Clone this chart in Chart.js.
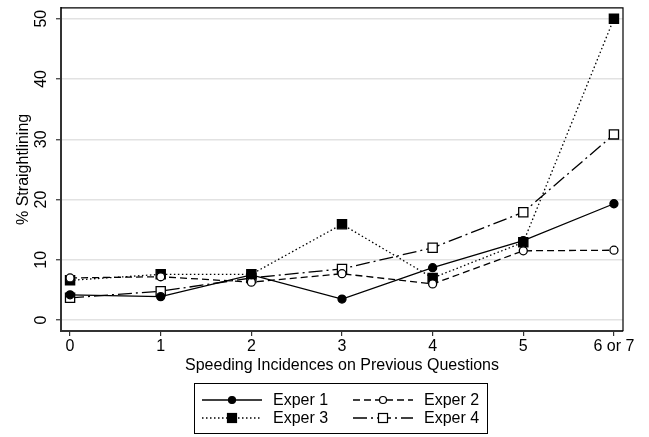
<!DOCTYPE html>
<html>
<head>
<meta charset="utf-8">
<script src="https://cdn.jsdelivr.net/npm/chart.js@4.4.1/dist/chart.umd.min.js"></script>
<style>
html, body { margin: 0; padding: 0; background: #fff; }
#wrap { position: relative; width: 649px; height: 437px; }
#legend {
    position: absolute; left: 194px; top: 383px; width: 294px; height: 51px;
    border: 1px solid #000; box-sizing: border-box;
    font: 16px "Liberation Sans", Arial, sans-serif; color: #000;
}
.item { position: absolute; height: 18px; line-height: 18px; white-space: nowrap; }
.item svg { position: absolute; left: 0; top: 3px; }
.item span { position: absolute; left: 71px; top: 0; }
</style>
</head>
<body>
<div id="wrap">
    <canvas id="chart" width="649" height="437"></canvas>
    <div id="legend"></div>
</div>
<script>
// data
const categories = ['0', '1', '2', '3', '4', '5', '6 or 7'];
const exper1 = [4.2, 3.9, 7.5, 3.5, 8.7, 13.2, 19.3];
const exper2 = [7.0, 7.2, 6.3, 7.7, 6.0, 11.5, 11.6];
const exper3 = [6.6, 7.6, 7.6, 15.9, 7.0, 12.9, 50.0];
const exper4 = [3.7, 4.8, 7.0, 8.5, 12.0, 17.9, 30.8];
const yTicks = [0, 10, 20, 30, 40, 50];

const FONT = '"Liberation Sans", Arial, sans-serif';

const series = [
    { label: 'Exper 1', data: exper1, dash: [], style: 'circle', fill: '#000', r: 4 },
    { label: 'Exper 2', data: exper2, dash: [7, 4], style: 'circle', fill: '#fff', r: 4 },
    { label: 'Exper 3', data: exper3, dash: [1.5, 2.5], style: 'rect', fill: '#000', r: 6.5 },
    { label: 'Exper 4', data: exper4, dash: [14, 4, 2, 4], style: 'rect', fill: '#fff', r: 6.5 }
];

const stataFrame = {
    id: 'stataFrame',
    beforeDatasetsDraw(chart) {
        const { ctx, chartArea: a } = chart;
        ctx.save();
        ctx.strokeStyle = '#000';
        ctx.lineWidth = 1.2;
        ctx.beginPath();
        ctx.moveTo(a.left, a.top);
        ctx.lineTo(a.right, a.top);
        ctx.lineTo(a.right, a.bottom);
        ctx.stroke();
        ctx.restore();
    },
    afterDraw(chart) {
        const { ctx, chartArea: a } = chart;
        const ys = chart.scales.y;
        ctx.save();
        ctx.fillStyle = '#000';
        ctx.font = '16px ' + FONT;
        ctx.textAlign = 'center';
        ctx.textBaseline = 'middle';
        yTicks.forEach(v => {
            ctx.save();
            ctx.translate(42, ys.getPixelForValue(v));
            ctx.rotate(-Math.PI / 2);
            ctx.fillText(String(v), 0, 0);
            ctx.restore();
        });
        ctx.save();
        ctx.translate(24, (a.top + a.bottom) / 2);
        ctx.rotate(-Math.PI / 2);
        ctx.fillText('% Straightlining', 0, 0);
        ctx.restore();
        ctx.fillText('Speeding Incidences on Previous Questions', (a.left + a.right) / 2, 366);
        ctx.restore();
    }
};

const datasets = series.map(s => ({
    label: s.label,
    data: s.data.map((v, i) => ({ x: i, y: v })),
    borderColor: '#000',
    borderWidth: 1.3,
    borderDash: s.dash,
    tension: 0,
    fill: false,
    pointStyle: s.style,
    pointRadius: s.r,
    pointBackgroundColor: s.fill,
    pointBorderColor: '#000',
    pointBorderWidth: 1.3
}));

const chart = new Chart(document.getElementById('chart').getContext('2d'), {
    type: 'line',
    data: { datasets: datasets },
    options: {
        responsive: false,
        animation: false,
        events: [],
        layout: { padding: { top: 7, right: 26, left: 0, bottom: 0 } },
        plugins: { legend: { display: false }, tooltip: { enabled: false } },
        scales: {
            x: {
                type: 'linear',
                min: -0.1,
                max: 6.1,
                afterBuildTicks: s => { s.ticks = categories.map((c, i) => ({ value: i })); },
                afterFit: s => { s.height = 106; },
                border: { color: '#333', width: 2 },
                grid: { drawOnChartArea: false, drawTicks: true, tickLength: 5, color: '#333', lineWidth: 1.2 },
                ticks: {
                    padding: 1,
                    maxRotation: 0,
                    color: '#000',
                    font: { family: FONT, size: 16 },
                    callback: v => categories[v]
                }
            },
            y: {
                min: -1.8,
                max: 51.8,
                afterBuildTicks: s => { s.ticks = yTicks.map(v => ({ value: v })); },
                afterFit: s => { s.width = 61; },
                border: { color: '#333', width: 2 },
                grid: {
                    color: '#e2e2e2',
                    lineWidth: 1.5,
                    drawTicks: true,
                    tickLength: 5,
                    tickColor: '#333',
                    tickWidth: 1.2
                },
                ticks: { display: false }
            }
        }
    },
    plugins: [stataFrame]
});

// legend: line sample with marker in the middle, two columns
const legend = document.getElementById('legend');
const cols = [7, 158];
const rows = [7, 25];
series.forEach((s, i) => {
    const item = document.createElement('div');
    item.className = 'item';
    item.style.left = cols[i % 2] + 'px';
    item.style.top = rows[Math.floor(i / 2)] + 'px';
    const dash = s.dash.length ? ' stroke-dasharray="' + s.dash.join(',') + '"' : '';
    const marker = s.style === 'circle'
        ? '<circle cx="30" cy="6" r="3.5" fill="' + s.fill + '" stroke="#000" stroke-width="1.2"/>'
        : '<rect x="25.5" y="1.5" width="9" height="9" fill="' + s.fill + '" stroke="#000" stroke-width="1.2"/>';
    item.innerHTML = '<svg width="61" height="12"><line x1="0" y1="6" x2="60" y2="6" stroke="#000" stroke-width="1.3"' + dash + '/>' + marker + '</svg><span>' + s.label + '</span>';
    legend.appendChild(item);
});
</script>
</body>
</html>
